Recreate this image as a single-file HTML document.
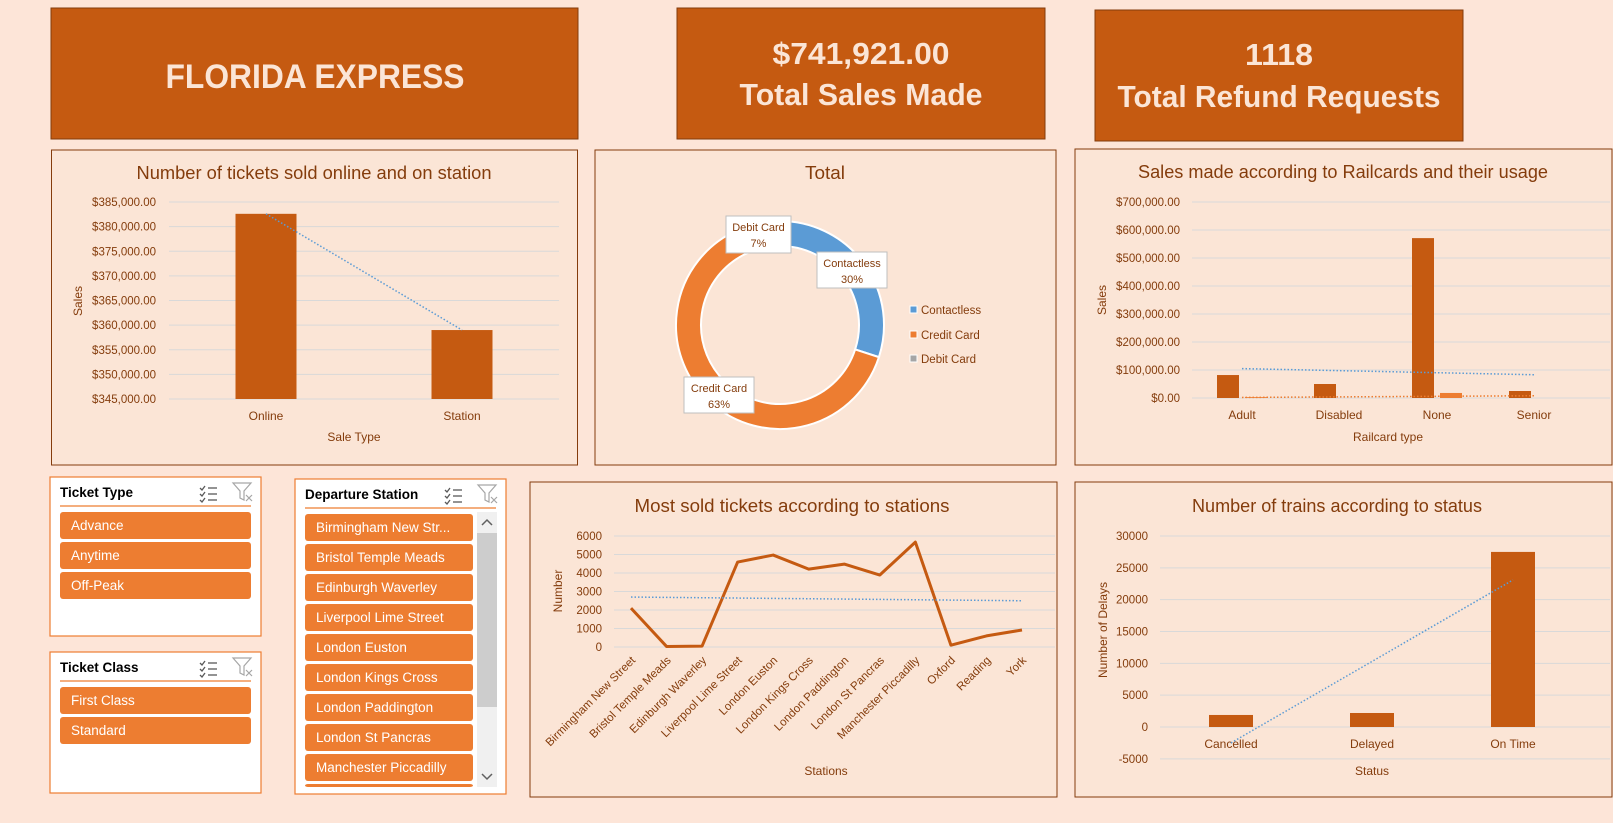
<!DOCTYPE html>
<html><head><meta charset="utf-8">
<style>
html,body{margin:0;padding:0;background:#FDE5D8;}
body{width:1613px;height:818px;overflow:hidden;font-family:"Liberation Sans",sans-serif;}
svg text{font-family:"Liberation Sans",sans-serif;}
</style></head>
<body>
<svg id="s" width="1613" height="818" viewBox="0 0 1613 818" xmlns="http://www.w3.org/2000/svg">
<rect x="0" y="0" width="1613" height="818" fill="#FDE5D8"/>
<g>
<rect x="51" y="8" width="527" height="131" fill="#C55A11" stroke="#843C0C"/>
<text x="315" y="88" text-anchor="middle" font-size="34" font-weight="bold" fill="#FBE5D6" textLength="299" lengthAdjust="spacingAndGlyphs">FLORIDA EXPRESS</text>
</g>
<g>
<rect x="677" y="8" width="368" height="131" fill="#C55A11" stroke="#843C0C"/>
<text x="861" y="64" text-anchor="middle" font-size="31" font-weight="bold" fill="#FBE5D6" textLength="177" lengthAdjust="spacingAndGlyphs">$741,921.00</text>
<text x="861" y="105" text-anchor="middle" font-size="31" font-weight="bold" fill="#FBE5D6" textLength="243" lengthAdjust="spacingAndGlyphs">Total Sales Made</text>
</g>
<g>
<rect x="1095" y="10" width="368" height="131" fill="#C55A11" stroke="#843C0C"/>
<text x="1279" y="65" text-anchor="middle" font-size="31" font-weight="bold" fill="#FBE5D6" textLength="68" lengthAdjust="spacingAndGlyphs">1118</text>
<text x="1279" y="107" text-anchor="middle" font-size="31" font-weight="bold" fill="#FBE5D6" textLength="323" lengthAdjust="spacingAndGlyphs">Total Refund Requests</text>
</g>
<rect x="51.5" y="150" width="526" height="315" fill="#FBE5D6" stroke="#843C0C"/>
<rect x="595" y="150" width="461" height="315" fill="#FBE5D6" stroke="#843C0C"/>
<rect x="1075" y="149" width="537" height="316" fill="#FBE5D6" stroke="#843C0C"/>
<rect x="530" y="482" width="527" height="315" fill="#FBE5D6" stroke="#843C0C"/>
<rect x="1075" y="482" width="537" height="315" fill="#FBE5D6" stroke="#843C0C"/>
<g id="g1"></g><g id="g2"></g><g id="g3"></g><g id="g4"></g><g id="g5"></g><g id="g6"></g>
</svg>
<script>
const NS='http://www.w3.org/2000/svg';
function el(p,t,a,txt){const e=document.createElementNS(NS,t);for(const k in a)e.setAttribute(k,a[k]);if(txt!==undefined)e.textContent=txt;p.appendChild(e);return e;}
const TXT='#843C0C',DARK='#C55A11',LIGHT='#ED7D31',BLUE='#5B9BD5',GRID='#D9D9D9';

const saleTypes=['Online','Station'];
const saleValues=[382600,359000];
const saleTicks=[345000,350000,355000,360000,365000,370000,375000,380000,385000];
const payLabels=['Contactless','Credit Card','Debit Card'];
const payShares=[30,63,7];
const railTypes=['Adult','Disabled','None','Senior'];
const railUsed=[82000,50000,571000,25000];
const railRefund=[3000,0,18000,0];
const railTrendA=[105000,83000];
const railTrendB=[2000,8000];
const railTicks=[0,100000,200000,300000,400000,500000,600000,700000];
const stations=['Birmingham New Street','Bristol Temple Meads','Edinburgh Waverley','Liverpool Lime Street','London Euston','London Kings Cross','London Paddington','London St Pancras','Manchester Piccadilly','Oxford','Reading','York'];
const stationCounts=[2100,30,50,4590,4970,4210,4480,3890,5670,100,600,920];
const stationTrend=[2700,2500];
const stationTicks=[0,1000,2000,3000,4000,5000,6000];
const statuses=['Cancelled','Delayed','On Time'];
const statusCounts=[1890,2200,27500];
const statusTrend=[-2500,23100];
const statusTicks=[-5000,0,5000,10000,15000,20000,25000,30000];

function money(v){return '$'+v.toLocaleString('en-US',{minimumFractionDigits:2,maximumFractionDigits:2});}
function lin(d0,d1,r0,r1){return v=>r0+(v-d0)/(d1-d0)*(r1-r0);}
function title(g,x,y,t,w,name){const e=el(g,'text',{x:x,y:y,'text-anchor':'middle','font-size':18,fill:TXT,textLength:w,lengthAdjust:'spacingAndGlyphs'},t);}
function lbl(g,x,y,t,name,extra){const a=Object.assign({x:x,y:y,'font-size':12,fill:TXT},extra||{});const e=el(g,'text',a,t);return e;}
function grid(g,ticks,y,x0,x1,fmt,tx,name){ticks.forEach(t=>{const l=el(g,'line',{x1:x0,x2:x1,y1:y(t),y2:y(t),stroke:GRID,'stroke-width':1});lbl(g,tx,y(t)+4,fmt(t),name+'-tick',{'text-anchor':'end','font-size':11.5});});}

(function(){const g=document.getElementById('g1');
title(g,314,179,'Number of tickets sold online and on station',355,'sale-type-title');
const y=lin(345000,385000,399,202);
grid(g,saleTicks,y,169,559,money,156,'sale-y');
const cx=[266,462];
saleTypes.forEach((c,i)=>{const r=el(g,'rect',{x:cx[i]-30.5,y:y(saleValues[i]),width:61,height:y(345000)-y(saleValues[i]),fill:DARK});
lbl(g,cx[i],420,c,'sale-x-label',{'text-anchor':'middle'});});
const t=el(g,'line',{x1:cx[0],y1:y(saleValues[0]),x2:cx[1],y2:y(saleValues[1]),stroke:BLUE,'stroke-width':1.5,'stroke-dasharray':'1.5 2'});
lbl(g,354,441,'Sale Type','sale-x-title',{'text-anchor':'middle'});
lbl(g,0,0,'Sales','sale-y-title',{'text-anchor':'middle',transform:'translate(82,301) rotate(-90)'});
})();

(function(){const g=document.getElementById('g2');
title(g,825,179,'Total',40,'donut-title');
const cx=780,cy=325,R=104,r=79,cols=[BLUE,LIGHT,'#A5A5A5'];
const tot=payShares.reduce((a,b)=>a+b,0);let a0=0;
function pt(a,rad){const t=(a-90)*Math.PI/180;return [cx+rad*Math.cos(t),cy+rad*Math.sin(t)];}
payShares.forEach((v,i)=>{const a1=a0+v/tot*360;const p1=pt(a0,R),p2=pt(a1,R),p3=pt(a1,r),p4=pt(a0,r);const lg=(a1-a0)>180?1:0;
const p=el(g,'path',{d:`M${p1}A${R},${R} 0 ${lg} 1 ${p2}L${p3}A${r},${r} 0 ${lg} 0 ${p4}Z`,fill:cols[i],stroke:'#fff','stroke-width':2});a0=a1;});
const boxes=[[817,252,70,36],[684,377,70,36],[726,216,65,37]];
payLabels.forEach((c,i)=>{const b=boxes[i];const bx=el(g,'rect',{x:b[0],y:b[1],width:b[2],height:b[3],fill:'#fff',stroke:'#BFBFBF'});
lbl(g,b[0]+b[2]/2,b[1]+15,c,'data-label-name',{'text-anchor':'middle','font-size':11});
lbl(g,b[0]+b[2]/2,b[1]+31,payShares[i]+'%','data-label-value',{'text-anchor':'middle','font-size':11});
const sq=el(g,'rect',{x:910,y:[306,331,355][i],width:7,height:7,fill:cols[i],stroke:'#fff'});
lbl(g,921,[314,339,363][i],c,'legend-entry',{'font-size':11.5});});
})();

(function(){const g=document.getElementById('g3');
title(g,1343,178,'Sales made according to Railcards and their usage',410,'railcard-title');
const y=lin(0,700000,398,202);
grid(g,railTicks,y,1192,1610,money,1180,'railcard-y');
const cx=[1242,1339,1437,1534];
railTypes.forEach((c,i)=>{const r1=el(g,'rect',{x:cx[i]-25,y:y(railUsed[i]),width:22,height:y(0)-y(railUsed[i]),fill:DARK});
const r2=el(g,'rect',{x:cx[i]+3,y:y(railRefund[i]),width:22,height:y(0)-y(railRefund[i]),fill:LIGHT});
lbl(g,cx[i],419,c,'railcard-x-label',{'text-anchor':'middle'});});
const t1=el(g,'line',{x1:cx[0],y1:y(railTrendA[0]),x2:cx[3],y2:y(railTrendA[1]),stroke:BLUE,'stroke-width':1.5,'stroke-dasharray':'1.5 2'});
const t2=el(g,'line',{x1:cx[0],y1:y(railTrendB[0]),x2:cx[3],y2:y(railTrendB[1]),stroke:LIGHT,'stroke-width':1.5,'stroke-dasharray':'1.5 2'});
lbl(g,1388,441,'Railcard type','railcard-x-title',{'text-anchor':'middle'});
lbl(g,0,0,'Sales','railcard-y-title',{'text-anchor':'middle',transform:'translate(1106,300) rotate(-90)'});
})();

(function(){const g=document.getElementById('g4');
title(g,792,512,'Most sold tickets according to stations',315,'stations-title');
const y=lin(0,6000,647,536);
grid(g,stationTicks,y,614,1055,v=>String(v),602,'stations-y');
const x=i=>631+i*(1022-631)/11;
let d='';stationCounts.forEach((v,i)=>{d+=(i?'L':'M')+x(i)+','+y(v);});
const p=el(g,'path',{d:d,fill:'none',stroke:DARK,'stroke-width':3,'stroke-linejoin':'round'});
const t=el(g,'line',{x1:x(0),y1:y(stationTrend[0]),x2:x(11),y2:y(stationTrend[1]),stroke:BLUE,'stroke-width':1.5,'stroke-dasharray':'1.5 2'});
stations.forEach((s,i)=>{lbl(g,0,0,s,'stations-x-label',{'text-anchor':'end','font-size':11.5,transform:`translate(${x(i)+5},${661}) rotate(-45)`});});
lbl(g,826,775,'Stations','stations-x-title',{'text-anchor':'middle'});
lbl(g,0,0,'Number','stations-y-title',{'text-anchor':'middle',transform:'translate(562,591) rotate(-90)'});
})();

(function(){const g=document.getElementById('g5');
title(g,1337,512,'Number of trains according to status',290,'status-title');
const y=lin(0,30000,727,536);
grid(g,statusTicks,y,1160,1610,v=>String(v),1148,'status-y');
const cx=[1231,1372,1513];
statuses.forEach((c,i)=>{const r=el(g,'rect',{x:cx[i]-22,y:y(statusCounts[i]),width:44,height:y(0)-y(statusCounts[i]),fill:DARK});
lbl(g,cx[i],748,c,'status-x-label',{'text-anchor':'middle'});});
const t=el(g,'line',{x1:cx[0],y1:y(statusTrend[0]),x2:cx[2],y2:y(statusTrend[1]),stroke:BLUE,'stroke-width':1.5,'stroke-dasharray':'1.5 2'});
lbl(g,1372,775,'Status','status-x-title',{'text-anchor':'middle'});
lbl(g,0,0,'Number of Delays','status-y-title',{'text-anchor':'middle',transform:'translate(1107,630) rotate(-90)'});
})();

(function(){const g=document.getElementById('g6');
function icons(x,y){const a=el(g,'g',{stroke:'#595959','stroke-width':1.3,fill:'none'});
for(let k=0;k<3;k++){el(a,'path',{d:`M${x} ${y+k*6+1}l2 2 3-4`});el(a,'line',{x1:x+8,x2:x+17,y1:y+k*6+1,y2:y+k*6+1});}
const b=el(g,'g',{stroke:'#A6A6A6','stroke-width':1.2,fill:'none'});
el(b,'path',{d:`M${x+33} ${y-4}h18l-7 8v9l-4-2v-7z`});el(b,'path',{d:`M${x+46} ${y+8}l6 6M${x+52} ${y+8}l-6 6`});}
function slicer(x,y,w,h,name,head,items,iw,iconX,clipH){const s=el(g,'rect',{x:x,y:y,width:w,height:h,fill:'#fff',stroke:LIGHT,'stroke-width':1.2});
const t=el(g,'text',{x:x+10,y:y+20,'font-size':13.5,'font-weight':'bold',fill:'#000'},head);
icons(iconX,y+10);
el(g,'line',{x1:x+10,x2:x+w-10,y1:y+29,y2:y+29,stroke:LIGHT,'stroke-width':1.2});
items.forEach((it,i)=>{const iy=y+35+i*30;if(iy>clipH)return;const hh=Math.min(27,clipH-iy);
const b=el(g,'rect',{x:x+10,y:iy,width:iw,height:hh,rx:3,fill:LIGHT});
if(hh>20){const tt=el(g,'text',{x:x+21,y:iy+18,'font-size':13.5,fill:'#fff'},it);}});}
slicer(50,477,211,159,'ticket-type-slicer','Ticket Type',['Advance','Anytime','Off-Peak'],191,200,999);
slicer(50,652,211,141,'ticket-class-slicer','Ticket Class',['First Class','Standard'],191,200,999);
slicer(295,479,211,315,'departure-station-slicer','Departure Station',['Birmingham New Str...','Bristol Temple Meads','Edinburgh Waverley','Liverpool Lime Street','London Euston','London Kings Cross','London Paddington','London St Pancras','Manchester Piccadilly','Oxford'],168,445,787);
const sb=el(g,'rect',{x:477,y:512,width:20,height:275,fill:'#F0F0F0'});
const th=el(g,'rect',{x:477,y:533,width:20,height:174,fill:'#CDCDCD'});
const u=el(g,'path',{d:'M482 525l5-5 5 5',stroke:'#606060','stroke-width':1.5,fill:'none'});
const dn=el(g,'path',{d:'M482 774l5 5 5-5',stroke:'#606060','stroke-width':1.5,fill:'none'});
})();
</script>
</body></html>
